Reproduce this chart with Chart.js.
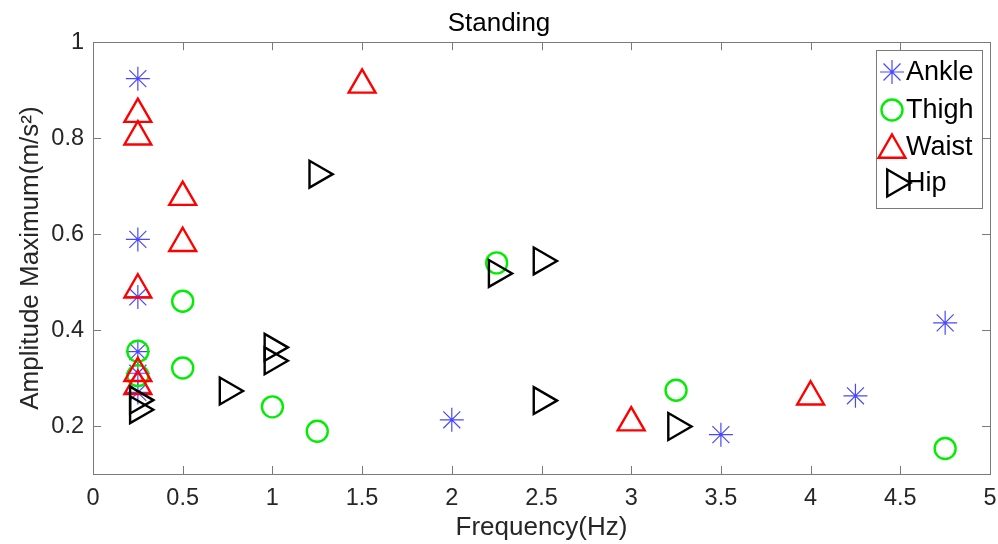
<!DOCTYPE html>
<html><head><meta charset="utf-8">
<script src="https://cdn.jsdelivr.net/npm/chart.js@4.4.1/dist/chart.umd.min.js"></script>
<style>html,body{margin:0;padding:0;background:#fff}#wrap{width:998px;height:544px;position:relative}</style>
</head><body><div id="wrap"><canvas id="c"></canvas></div>
<script>
const seriesNames = ['Ankle', 'Thigh', 'Waist', 'Hip'];
const ankleX = [0.25, 0.25, 0.25, 0.25, 0.25, 0.25, 2, 3.5, 4.25, 4.75];
const ankleY = [0.924, 0.589, 0.469, 0.355, 0.31, 0.27, 0.213, 0.182, 0.263, 0.415];
const thighX = [0.25, 0.25, 0.5, 0.5, 1, 1.25, 2.25, 3.25, 4.75];
const thighY = [0.356, 0.305, 0.46, 0.321, 0.24, 0.189, 0.54, 0.2745, 0.153];
const waistX = [0.25, 0.25, 0.5, 0.5, 0.25, 0.25, 0.25, 1.5, 3, 4];
const waistY = [0.85, 0.803, 0.677, 0.581, 0.484, 0.31, 0.283, 0.911, 0.207, 0.261];
const hipX = [0.25, 0.25, 0.75, 1, 1, 1.25, 2.25, 2.5, 2.5, 3.25];
const hipY = [0.254, 0.234, 0.273, 0.364, 0.336, 0.725, 0.518, 0.544, 0.253, 0.199];
const xTicks = [0, 0.5, 1, 1.5, 2, 2.5, 3, 3.5, 4, 4.5, 5];
const yTicks = [0.2, 0.4, 0.6, 0.8, 1];
const chartTitle = 'Standing';
const xTitle = 'Frequency(Hz)';
const yTitle = 'Amplitude Maximum(m/s\u00B2)';

const pts = (xs, ys) => xs.map((x, i) => ({x: x, y: ys[i]}));
const FONT = "'Liberation Sans', Arial, Helvetica, sans-serif";
const AXIS_COLOR = '#7a7a7a';
const TEXT_COLOR = '#262626';

const styles = [
  {pointStyle: 'star', radius: 12, borderColor: '#4848ff', borderWidth: 1.2, rotation: 0},
  {pointStyle: 'circle', radius: 10.5, borderColor: '#00ee00', borderWidth: 2.4, rotation: 0},
  {pointStyle: 'triangle', radius: 15.5, borderColor: '#ff0000', borderWidth: 2.4, rotation: 0},
  {pointStyle: 'triangle', radius: 15.5, borderColor: '#000000', borderWidth: 2.4, rotation: 90}
];
const dataSets = [pts(ankleX, ankleY), pts(thighX, thighY), pts(waistX, waistY), pts(hipX, hipY)];

const datasets = seriesNames.map((name, i) => ({
  label: name,
  data: dataSets[i],
  showLine: false,
  pointStyle: styles[i].pointStyle,
  pointRadius: styles[i].radius,
  pointHoverRadius: styles[i].radius,
  pointRotation: styles[i].rotation,
  pointBorderColor: styles[i].borderColor,
  pointBackgroundColor: 'rgba(0,0,0,0)',
  pointBorderWidth: styles[i].borderWidth,
  borderColor: styles[i].borderColor,
  backgroundColor: 'rgba(0,0,0,0)',
  order: 4 - i
}));

function fmt(v) { return String(Number(Number(v).toFixed(3))); }

const boxPlugin = {
  id: 'boxTicks',
  afterDraw(chart) {
    const {ctx, chartArea: a, scales} = chart;
    ctx.save();
    ctx.strokeStyle = AXIS_COLOR;
    ctx.lineWidth = 1;
    ctx.strokeRect(Math.round(a.left) + 0.5, Math.round(a.top) + 0.5, Math.round(a.right - a.left), Math.round(a.bottom - a.top));
    const tl = 8;
    ctx.beginPath();
    xTicks.forEach(v => {
      const px = Math.round(scales.x.getPixelForValue(v)) + 0.5;
      ctx.moveTo(px, a.bottom); ctx.lineTo(px, a.bottom - tl);
      ctx.moveTo(px, a.top); ctx.lineTo(px, a.top + tl);
    });
    yTicks.forEach(v => {
      const py = Math.round(scales.y.getPixelForValue(v)) + 0.5;
      ctx.moveTo(a.left, py); ctx.lineTo(a.left + tl, py);
      ctx.moveTo(a.right, py); ctx.lineTo(a.right - tl, py);
    });
    ctx.stroke();

    // legend
    const lx = 876, ly = 50, lw = 106, lh = 158;
    ctx.fillStyle = '#ffffff';
    ctx.fillRect(lx, ly, lw, lh);
    ctx.strokeStyle = AXIS_COLOR;
    ctx.strokeRect(lx + 0.5, ly + 0.5, lw, lh);
    const rowY = [72, 110, 147, 183];
    ctx.font = '27px ' + FONT;
    ctx.textBaseline = 'middle';
    ctx.textAlign = 'left';
    seriesNames.forEach((name, i) => {
      const s = styles[i];
      ctx.strokeStyle = s.borderColor;
      ctx.fillStyle = 'rgba(0,0,0,0)';
      ctx.lineWidth = s.borderWidth;
      if (Chart.helpers && Chart.helpers.drawPoint) {
        Chart.helpers.drawPoint(ctx, {pointStyle: s.pointStyle, rotation: s.rotation, radius: s.radius, borderWidth: s.borderWidth}, i === 3 ? 895 : 892, rowY[i] + (i === 2 ? 3 : 0));
      }
      ctx.fillStyle = '#000000';
      ctx.fillText(name, 906, rowY[i] + 1);
    });
    ctx.restore();
  }
};

new Chart(document.getElementById('c'), {
  type: 'scatter',
  data: {datasets: datasets},
  options: {
    responsive: true,
    maintainAspectRatio: false,
    animation: false,
    events: [],
    layout: {autoPadding: false, padding: {left: 0, right: 0, top: 0, bottom: 0}},
    plugins: {
      legend: {display: false},
      tooltip: {enabled: false},
      title: {
        display: true,
        text: chartTitle,
        color: '#000000',
        font: {family: FONT, size: 26, weight: 'normal'},
        padding: {top: 8, bottom: 3}
      }
    },
    scales: {
      x: {
        type: 'linear',
        min: 0, max: 5,
        afterBuildTicks: s => { s.ticks = xTicks.map(v => ({value: v})); },
        afterFit: s => { s.height = 70; s.paddingRight = 8; s.paddingLeft = 0; },
        grid: {display: false, drawTicks: false},
        border: {display: false},
        ticks: {color: TEXT_COLOR, font: {family: FONT, size: 23.5}, padding: 10, callback: v => fmt(v), maxRotation: 0, autoSkip: false},
        title: {display: true, text: xTitle, color: TEXT_COLOR, font: {family: FONT, size: 26}, padding: {top: 0, bottom: 1}}
      },
      y: {
        type: 'linear',
        min: 0.1, max: 1,
        afterBuildTicks: s => { s.ticks = yTicks.map(v => ({value: v})); },
        afterFit: s => { s.width = 93; },
        grid: {display: false, drawTicks: false},
        border: {display: false},
        ticks: {color: TEXT_COLOR, font: {family: FONT, size: 23.5}, padding: 9, callback: v => fmt(v), autoSkip: false},
        title: {display: true, text: yTitle, color: TEXT_COLOR, font: {family: FONT, size: 26}, padding: {top: 15, bottom: 0}}
      }
    }
  },
  plugins: [boxPlugin]
});
</script>
</body></html>
